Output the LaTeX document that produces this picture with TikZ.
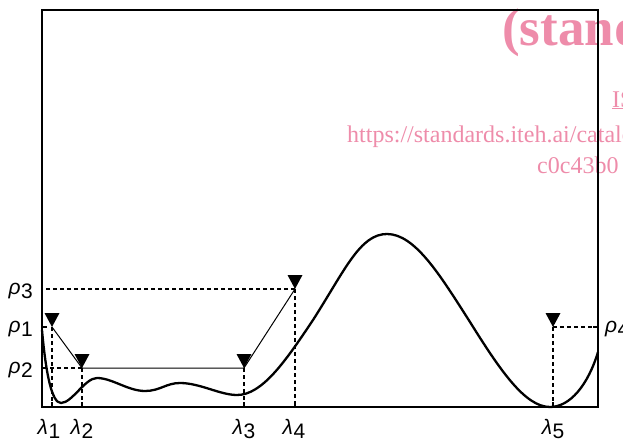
\documentclass[tikz,border=0pt]{standalone}
\usepackage{fontspec}
\setmainfont{Liberation Sans}
\newfontfamily\wmfont{Liberation Serif}
\usetikzlibrary{calc}
\definecolor{cWM}{HTML}{EE8CAA}
\newcommand{\sym}[2]{\textit{#1}\kern0.5pt\raisebox{-4.5pt}{#2}}

\begin{document}
\begin{tikzpicture}[x=1pt, y=-1pt, font=\fontsize{21}{24}\selectfont,
  guide/.style={line width=1.3pt, dash pattern=on 4pt off 3pt},
  wm/.style={cWM, inner sep=0pt, anchor=base west}]
\useasboundingbox (0,0) rectangle (623,441);
\clip (0,0) rectangle (623,441);
% watermark
\node[wm, font=\wmfont\bfseries\fontsize{53}{53}\selectfont] (w1) at (502,46) {(stand};
\node[wm, font=\wmfont\fontsize{24}{24}\selectfont] (w2) at (612,107) {\underline{IS}};
\node[wm, font=\wmfont\fontsize{24}{24}\selectfont] (w3) at (347,142) {https://standards.iteh.ai/catalo};
\node[wm, font=\wmfont\fontsize{24}{24}\selectfont] (w4) at (537,173) {c0c43b0};
% frame
\draw[line width=1.3pt] (42,10) rectangle (598,407);
\coordinate (ax) at (42,407);
\coordinate (axr) at (598,407);
% curve
\draw[line width=2.3pt, line join=round] (42,330)
  .. controls (46,375) and (52,403) .. (61,403)
  .. controls (72,403) and (85,378) .. (97,378)
  .. controls (112,378) and (128,391) .. (145,391)
  .. controls (160,391) and (166,383) .. (180,383)
  .. controls (200,383) and (220,395) .. (237,395)
  .. controls (262,395) and (285,362) .. (313,320)
  .. controls (345,270) and (360,234) .. (387,234)
  .. controls (415,234) and (440,275) .. (470,322)
  .. controls (500,370) and (525,407) .. (550,407)
  .. controls (570,407) and (588,385) .. (598,352);
% points
\foreach \n/\x/\y in {1/52/327, 2/82/368, 3/244/368, 4/295/289, 5/553/327}
  \coordinate (p\n) at (\x,\y);
\draw[line width=1pt] (p1) -- (p2) -- (p3) -- (p4);
\foreach \n/\dx in {1/-3, 2/0, 3/0, 4/-1, 5/0} {
  \draw[guide] (p\n) -- (p\n |- ax);
  \draw[line width=1.3pt] (p\n |- ax) -- ++(0,-5);
  \fill (p\n) -- ++(-7.5,-14) -- ++(15,0) -- cycle;
  \node[anchor=north, inner sep=0pt] (l\n) at ($(p\n |- ax)+(\dx,12)$) {\sym{λ}{\n}};
}
% levels
\draw[guide] (p2) -- (p2 -| ax);
\draw[guide] (p4) -- (p4 -| ax);
\draw[guide] (p5) -- (p5 -| axr);
\draw[line width=1.3pt] (p1 -| ax) -- ++(5,0);
\draw[line width=1.3pt] (p5 -| axr) -- ++(-5,0);
\foreach \n/\p in {1/p1, 2/p2, 3/p4}
  \node[anchor=east, inner sep=0pt] (r\n) at ($(\p -| ax)+(-9,2)$) {\sym{ρ}{\n}};
\node[anchor=west, inner sep=0pt] (r4) at ($(p5 -| axr)+(7,2)$) {\sym{ρ}{4}};
\end{tikzpicture}
\end{document}
